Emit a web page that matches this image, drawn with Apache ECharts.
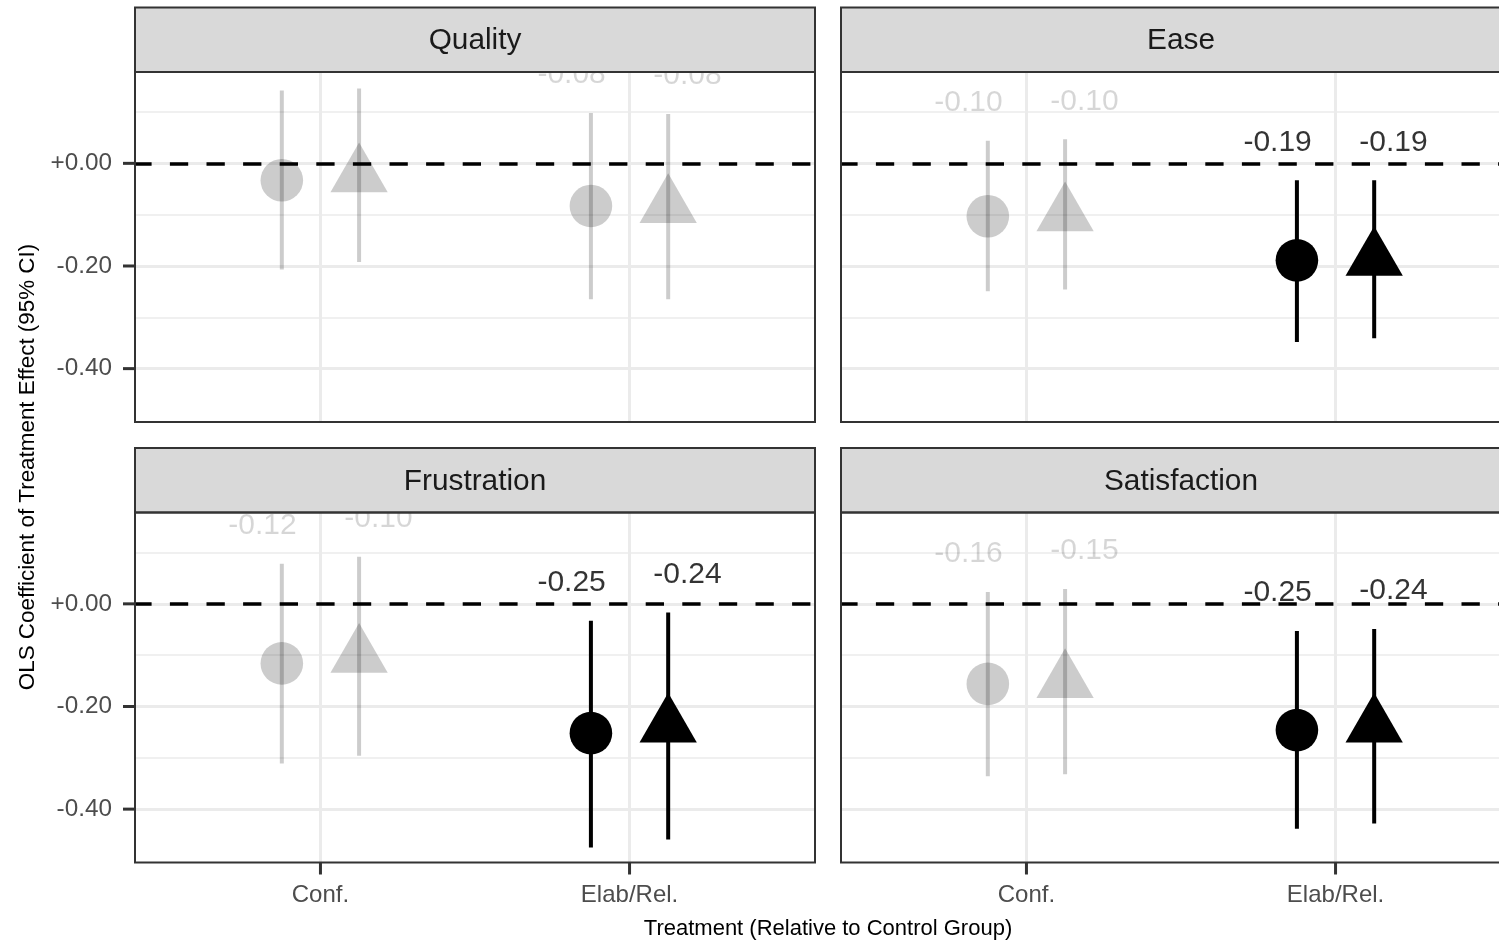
<!DOCTYPE html>
<html>
<head>
<meta charset="utf-8">
<script src="https://cdn.jsdelivr.net/npm/echarts@6/dist/echarts.min.js"></script>
<style>
  html, body { margin: 0; padding: 0; background: #ffffff; }
  #chart { width: 1499px; height: 944px; }
</style>
</head>
<body>
<div id="chart"></div>
<script>
// ---------------- data ----------------
const panels = ['Quality', 'Ease', 'Frustration', 'Satisfaction'];
const treatments = ['Conf.', 'Elab/Rel.'];
const yTicks = [-0.4, -0.2, 0];
const yMinor = [0.1, -0.1, -0.3];

// circle series (per panel: [Conf., Elab/Rel.])
const circleEstimate = [[-0.033, -0.083], [-0.103, -0.189], [-0.116, -0.252], [-0.156, -0.246]];
const circleLower    = [[-0.207, -0.265], [-0.249, -0.348], [-0.311, -0.475], [-0.336, -0.438]];
const circleUpper    = [[ 0.142,  0.098], [ 0.044, -0.033], [ 0.078, -0.033], [ 0.023, -0.053]];

// triangle series
const triangleEstimate = [[-0.024, -0.084], [-0.100, -0.187], [-0.102, -0.238], [-0.151, -0.238]];
const triangleLower    = [[-0.192, -0.265], [-0.246, -0.341], [-0.296, -0.459], [-0.332, -0.428]];
const triangleUpper    = [[ 0.146,  0.096], [ 0.047, -0.033], [ 0.092, -0.017], [ 0.029, -0.049]];

// ---------------- styling / layout ----------------
const FONT = "'Liberation Sans', Arial, sans-serif";
const BLACK = '#000000';
const GREY = 'rgba(0,0,0,0.2)';
const dodge = 0.125;       // point dodge
const labelDodge = 0.1875; // text dodge
const labelLift = 0.074;
const yMin = -0.504, yMax = 0.178;
const xMin = 0.4, xMax = 2.6;
const tickLen = 12;
const grids = [
  { left: 135, top: 72,  width: 680, height: 350 },
  { left: 841, top: 72,  width: 680, height: 350 },
  { left: 135, top: 512.5, width: 680, height: 350 },
  { left: 841, top: 512.5, width: 680, height: 350 }
];
const stripH = 64.5;

const chart = echarts.init(document.getElementById('chart'), null, { renderer: 'canvas' });

const fmtY = v => (v >= -1e-9 ? '+' : '') + (Math.abs(v) < 1e-9 ? 0 : v).toFixed(2);

const xAxes = [], yAxes = [], series = [], graphics = [];

grids.forEach((g, gi) => {
  const bottomRow = gi >= 2;
  const leftCol = gi % 2 === 0;
  xAxes.push({
    gridIndex: gi, type: 'value', min: xMin, max: xMax,
    show: bottomRow,
    axisLine: { show: false, onZero: false },
    splitLine: { show: false },
    axisTick: { show: false },
    axisLabel: {
      show: bottomRow, customValues: [1, 2], margin: 21,
      fontFamily: FONT, fontSize: 24, color: '#4D4D4D',
      formatter: v => treatments[Math.round(v) - 1] || ''
    }
  });
  yAxes.push({
    gridIndex: gi, type: 'value', min: yMin, max: yMax,
    show: leftCol,
    axisLine: { show: false, onZero: false },
    splitLine: { show: false },
    axisTick: { show: false },
    axisLabel: {
      show: leftCol, customValues: yTicks, margin: 23,
      fontFamily: FONT, fontSize: 24.3, color: '#4D4D4D',
      formatter: fmtY
    }
  });

  // grid lines (minor + major) via markLine
  const glData = [];
  yMinor.forEach(v => glData.push({ yAxis: v, lineStyle: { color: '#EBEBEB', width: 1.5, type: 'solid' } }));
  yTicks.forEach(v => glData.push({ yAxis: v, lineStyle: { color: '#EBEBEB', width: 3, type: 'solid' } }));
  [1, 2].forEach(v => glData.push({ xAxis: v, lineStyle: { color: '#EBEBEB', width: 3, type: 'solid' } }));
  series.push({
    type: 'scatter', xAxisIndex: gi, yAxisIndex: gi, data: [], z: 1, silent: true,
    markLine: { z: 1, silent: true, symbol: ['none', 'none'], label: { show: false }, animation: false, data: glData }
  });
  // dashed zero reference line
  series.push({
    type: 'scatter', xAxisIndex: gi, yAxisIndex: gi, data: [], z: 2, silent: true,
    markLine: {
      z: 2, silent: true, symbol: ['none', 'none'], label: { show: false }, animation: false,
      data: [{ yAxis: 0, lineStyle: { color: BLACK, width: 3.5, type: [18.3, 18.3], dashOffset: 1.7 } }]
    }
  });

  // axis tick marks (through the axis scales)
  const tkData = [];
  if (bottomRow) [1, 2].forEach(v => tkData.push([0, v]));
  if (leftCol) yTicks.forEach(v => tkData.push([1, v]));
  series.push({
    type: 'custom', xAxisIndex: gi, yAxisIndex: gi, z: 6, silent: true, animation: false, clip: false,
    encode: { x: -1, y: -1 },
    data: tkData,
    renderItem: (params, api) => {
      const isY = api.value(0) === 1;
      const v = api.value(1);
      const p = isY ? api.coord([xMin, v]) : api.coord([v, yMin]);
      const shape = isY
        ? { x1: p[0] - tickLen, y1: p[1], x2: p[0], y2: p[1] }
        : { x1: p[0], y1: p[1], x2: p[0], y2: p[1] + tickLen };
      return { type: 'line', shape, style: { stroke: '#333333', lineWidth: 3 } };
    }
  });

  // error bars
  const ebData = [];
  [0, 1].forEach(ti => {
    ebData.push([ti + 1 - dodge, circleLower[gi][ti], circleUpper[gi][ti], circleUpper[gi][ti] < 0 ? 1 : 0]);
    ebData.push([ti + 1 + dodge, triangleLower[gi][ti], triangleUpper[gi][ti], triangleUpper[gi][ti] < 0 ? 1 : 0]);
  });
  series.push({
    type: 'custom', xAxisIndex: gi, yAxisIndex: gi, z: 3, silent: true, animation: false,
    data: ebData,
    renderItem: (params, api) => {
      const p1 = api.coord([api.value(0), api.value(1)]);
      const p2 = api.coord([api.value(0), api.value(2)]);
      return {
        type: 'line',
        shape: { x1: p1[0], y1: p1[1], x2: p2[0], y2: p2[1] },
        style: { stroke: api.value(3) ? BLACK : GREY, lineWidth: 4, lineCap: 'butt' }
      };
    }
  });

  // points
  const ptData = [];
  [0, 1].forEach(ti => {
    const cs = circleUpper[gi][ti] < 0;
    ptData.push({
      value: [ti + 1 - dodge, circleEstimate[gi][ti]],
      symbol: 'circle', symbolSize: 42.6,
      itemStyle: { color: cs ? BLACK : GREY, opacity: 1 }
    });
    const ts = triangleUpper[gi][ti] < 0;
    ptData.push({
      value: [ti + 1 + dodge, triangleEstimate[gi][ti]],
      symbol: 'triangle', symbolSize: [57.3, 49.7], symbolOffset: [0, -8.3],
      itemStyle: { color: ts ? BLACK : GREY, opacity: 1 }
    });
  });
  series.push({
    type: 'scatter', xAxisIndex: gi, yAxisIndex: gi, z: 4, silent: true, animation: false,
    clip: true, itemStyle: { opacity: 1 }, data: ptData
  });

  // value labels
  const lbData = [];
  [0, 1].forEach(ti => {
    const cs = circleUpper[gi][ti] < 0;
    lbData.push({
      value: [ti + 1 - labelDodge, circleUpper[gi][ti] + labelLift],
      label: { formatter: circleEstimate[gi][ti].toFixed(2), color: cs ? BLACK : GREY }
    });
    const ts = triangleUpper[gi][ti] < 0;
    lbData.push({
      value: [ti + 1 + labelDodge, triangleUpper[gi][ti] + labelLift],
      label: { formatter: triangleEstimate[gi][ti].toFixed(2), color: ts ? BLACK : GREY }
    });
  });
  series.push({
    type: 'scatter', xAxisIndex: gi, yAxisIndex: gi, z: 5, silent: true, animation: false,
    clip: true, symbol: 'circle', symbolSize: 0,
    itemStyle: { color: 'rgba(0,0,0,0)' },
    label: { show: true, position: 'inside', fontFamily: FONT, fontSize: 30 },
    data: lbData
  });

  // strip + border graphics
  graphics.push({
    type: 'rect', z: 100, silent: true,
    shape: { x: g.left, y: g.top - stripH, width: g.width, height: stripH },
    style: { fill: '#D9D9D9', stroke: '#333333', lineWidth: 2 }
  });
  graphics.push({
    type: 'text', z: 101, silent: true,
    x: g.left + g.width / 2, y: g.top - stripH / 2 + 1.5,
    style: { text: panels[gi], font: `29.8px ${FONT}`, fill: '#1A1A1A', align: 'center', verticalAlign: 'middle' }
  });
  graphics.push({
    type: 'rect', z: 100, silent: true,
    shape: { x: g.left, y: g.top, width: g.width, height: g.height },
    style: { fill: 'none', stroke: '#333333', lineWidth: 2 }
  });
});

// axis titles
graphics.push({
  type: 'text', z: 101, silent: true,
  x: 828, y: 928.5,
  style: { text: 'Treatment (Relative to Control Group)', font: `22px ${FONT}`, fill: '#000000', align: 'center', verticalAlign: 'middle' }
});
graphics.push({
  type: 'text', z: 101, silent: true,
  x: 28, y: 467, rotation: Math.PI / 2,
  style: { text: 'OLS Coefficient of Treatment Effect (95% CI)', font: `22.4px ${FONT}`, fill: '#000000', align: 'center', verticalAlign: 'middle' }
});

chart.setOption({
  animation: false,
  backgroundColor: '#ffffff',
  grid: grids.map(g => Object.assign({ containLabel: false, outerBoundsMode: 'none', show: false }, g)),
  xAxis: xAxes,
  yAxis: yAxes,
  series: series,
  graphic: { elements: graphics }
});
</script>
</body>
</html>
